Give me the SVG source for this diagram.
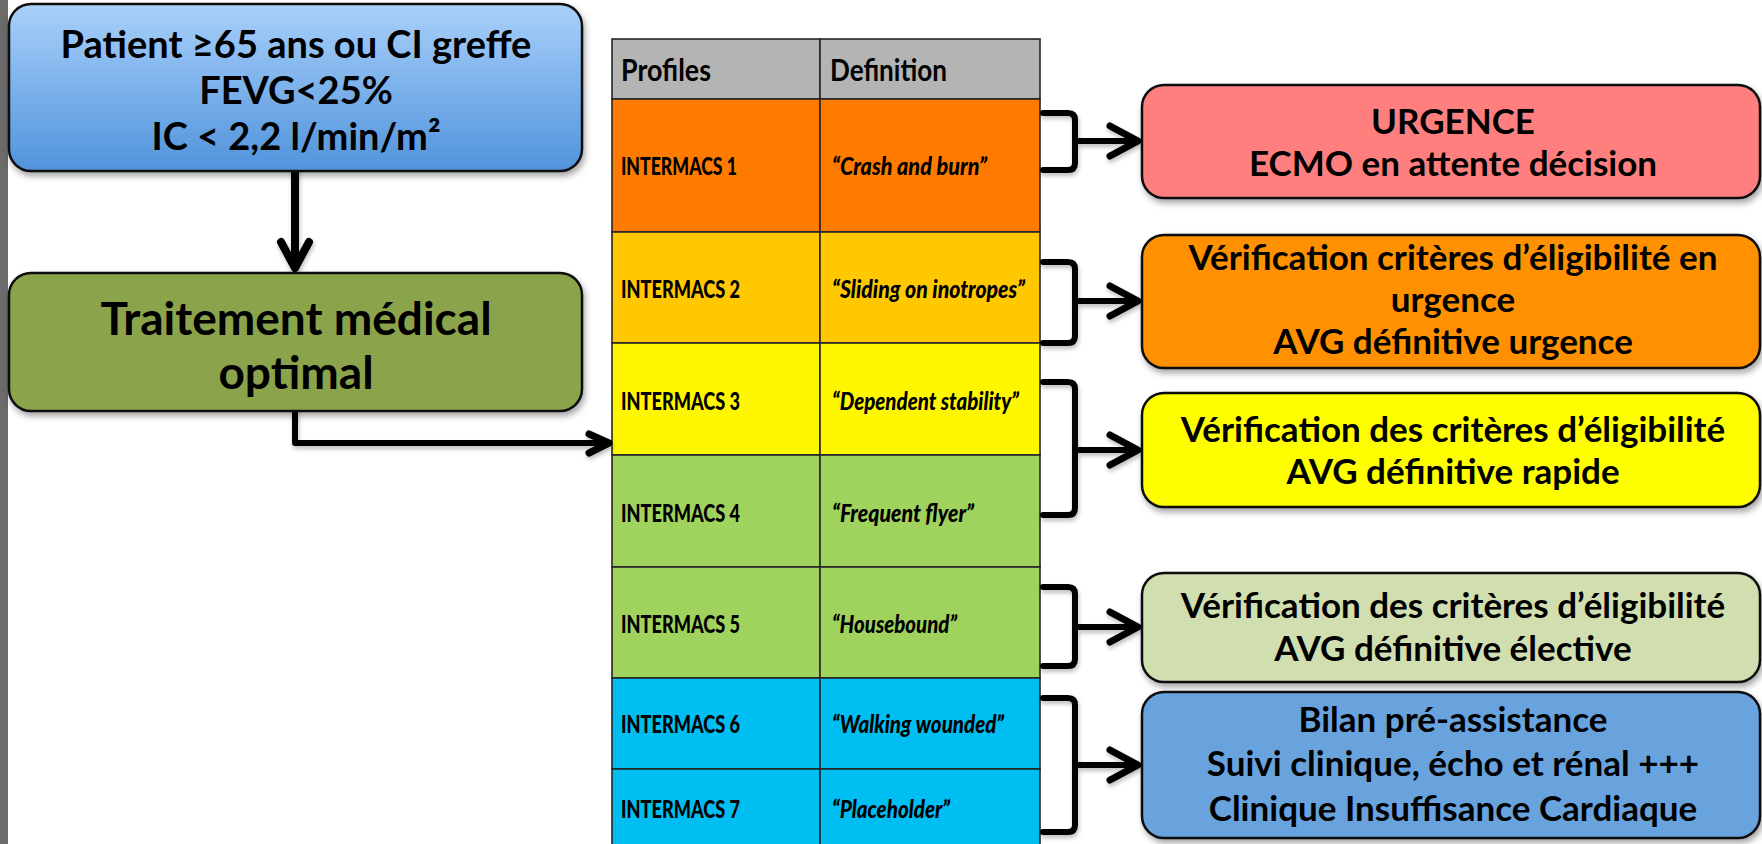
<svg xmlns="http://www.w3.org/2000/svg" width="1762" height="844" viewBox="0 0 1762 844">
  <defs>
    <linearGradient id="gradBlue" x1="0" y1="0" x2="0" y2="1">
      <stop offset="0" stop-color="#a9d0fa"/>
      <stop offset="1" stop-color="#5093dc"/>
    </linearGradient>
    <filter id="shadow" x="-10%" y="-10%" width="130%" height="140%">
      <feDropShadow dx="2" dy="4" stdDeviation="3" flood-color="#000" flood-opacity="0.35"/>
    </filter>
    <filter id="lineShadow" x="-20%" y="-20%" width="150%" height="150%">
      <feDropShadow dx="1" dy="3" stdDeviation="2" flood-color="#000" flood-opacity="0.25"/>
    </filter>
    <style>
      .box { stroke: #111; stroke-width: 2.5; filter: url(#shadow); }
      .t { font-family: "Lato", "Liberation Sans", sans-serif; font-weight: bold; fill: #000; text-anchor: middle; }
      .t34 { font-size: 35px; }
      .cell { stroke: #262626; stroke-width: 1.6; }
      .tc { font-family: "Lato", "Liberation Sans", sans-serif; font-weight: 900; fill: #000; font-size: 24px; }
      .th { font-size: 31px; font-weight: bold; }
      .ti { font-style: italic; }
      .link { fill: none; stroke: #000; stroke-linecap: round; stroke-linejoin: round; }
    </style>
  </defs>

  <rect x="0" y="0" width="1762" height="844" fill="#fff"/>
  <rect x="0" y="0" width="8" height="844" fill="#6b6b6b"/>

  <!-- INTERMACS profile table -->
  <g id="table">
    <rect class="cell" x="612" y="39" width="208" height="60" fill="#b4b4b4"/>
    <rect class="cell" x="820" y="39" width="220" height="60" fill="#b4b4b4"/>
    <rect class="cell" x="612" y="99" width="208" height="133" fill="#ff7b00"/>
    <rect class="cell" x="820" y="99" width="220" height="133" fill="#ff7b00"/>
    <rect class="cell" x="612" y="232" width="208" height="111" fill="#ffc800"/>
    <rect class="cell" x="820" y="232" width="220" height="111" fill="#ffc800"/>
    <rect class="cell" x="612" y="343" width="208" height="112" fill="#fff700"/>
    <rect class="cell" x="820" y="343" width="220" height="112" fill="#fff700"/>
    <rect class="cell" x="612" y="455" width="208" height="112" fill="#a0d25e"/>
    <rect class="cell" x="820" y="455" width="220" height="112" fill="#a0d25e"/>
    <rect class="cell" x="612" y="567" width="208" height="111" fill="#a0d25e"/>
    <rect class="cell" x="820" y="567" width="220" height="111" fill="#a0d25e"/>
    <rect class="cell" x="612" y="678" width="208" height="91" fill="#00bdf2"/>
    <rect class="cell" x="820" y="678" width="220" height="91" fill="#00bdf2"/>
    <rect class="cell" x="612" y="769" width="208" height="90" fill="#00bdf2"/>
    <rect class="cell" x="820" y="769" width="220" height="90" fill="#00bdf2"/>

    <text class="tc th" x="621" y="81" textLength="90" lengthAdjust="spacingAndGlyphs">Profiles</text>
    <text class="tc th" x="830" y="81" textLength="117" lengthAdjust="spacingAndGlyphs">Definition</text>

    <text class="tc" x="621" y="175" textLength="116" lengthAdjust="spacingAndGlyphs">INTERMACS 1</text>
    <text class="tc ti" x="832" y="175" textLength="155" lengthAdjust="spacingAndGlyphs">“Crash and burn”</text>
    <text class="tc" x="621" y="298" textLength="119" lengthAdjust="spacingAndGlyphs">INTERMACS 2</text>
    <text class="tc ti" x="832" y="298" textLength="193" lengthAdjust="spacingAndGlyphs">“Sliding on inotropes”</text>
    <text class="tc" x="621" y="410" textLength="119" lengthAdjust="spacingAndGlyphs">INTERMACS 3</text>
    <text class="tc ti" x="832" y="410" textLength="187" lengthAdjust="spacingAndGlyphs">“Dependent stability”</text>
    <text class="tc" x="621" y="522" textLength="119" lengthAdjust="spacingAndGlyphs">INTERMACS 4</text>
    <text class="tc ti" x="832" y="522" textLength="142" lengthAdjust="spacingAndGlyphs">“Frequent flyer”</text>
    <text class="tc" x="621" y="633" textLength="119" lengthAdjust="spacingAndGlyphs">INTERMACS 5</text>
    <text class="tc ti" x="832" y="633" textLength="125" lengthAdjust="spacingAndGlyphs">“Housebound”</text>
    <text class="tc" x="621" y="733" textLength="119" lengthAdjust="spacingAndGlyphs">INTERMACS 6</text>
    <text class="tc ti" x="832" y="733" textLength="172" lengthAdjust="spacingAndGlyphs">“Walking wounded”</text>
    <text class="tc" x="621" y="818" textLength="119" lengthAdjust="spacingAndGlyphs">INTERMACS 7</text>
    <text class="tc ti" x="832" y="818" textLength="118" lengthAdjust="spacingAndGlyphs">“Placeholder”</text>
  </g>

  <!-- Connectors: arrows and brackets -->
  <g id="connectors" filter="url(#lineShadow)">
    <path class="link" stroke-width="8" d="M295,171 V266"/>
    <path class="link" stroke-width="8" d="M281,242 L295,268 L309,242"/>

    <path class="link" stroke-width="6" d="M295,411 V443 H606"/>
    <path class="link" stroke-width="7" d="M589,434 L609,443 L589,453"/>

    <path class="link" stroke-width="6" d="M1043,113 H1068 Q1075,113 1075,120 V163 Q1075,170 1068,170 H1043"/>
    <path class="link" stroke-width="6" d="M1075,141 H1136"/>
    <path class="link" stroke-width="7" d="M1110,126 L1138,141 L1110,156"/>

    <path class="link" stroke-width="6" d="M1043,262 H1068 Q1075,262 1075,269 V336 Q1075,343 1068,343 H1043"/>
    <path class="link" stroke-width="6" d="M1075,301 H1136"/>
    <path class="link" stroke-width="7" d="M1110,286 L1138,301 L1110,316"/>

    <path class="link" stroke-width="6" d="M1043,382 H1068 Q1075,382 1075,389 V508 Q1075,515 1068,515 H1043"/>
    <path class="link" stroke-width="6" d="M1075,450 H1136"/>
    <path class="link" stroke-width="7" d="M1110,435 L1138,450 L1110,465"/>

    <path class="link" stroke-width="6" d="M1043,587 H1068 Q1075,587 1075,594 V659 Q1075,666 1068,666 H1043"/>
    <path class="link" stroke-width="6" d="M1075,627 H1136"/>
    <path class="link" stroke-width="7" d="M1110,612 L1138,627 L1110,642"/>

    <path class="link" stroke-width="6" d="M1043,698 H1068 Q1075,698 1075,705 V825 Q1075,832 1068,832 H1043"/>
    <path class="link" stroke-width="6" d="M1075,765 H1136"/>
    <path class="link" stroke-width="7" d="M1110,750 L1138,765 L1110,780"/>
  </g>

  <!-- Patient criteria -->
  <g id="criteria">
    <rect class="box" x="9" y="4" width="573" height="167" rx="22" fill="url(#gradBlue)"/>
    <text class="t" x="296" y="58" font-size="38">Patient ≥65 ans ou CI greffe</text>
    <text class="t" x="296" y="104" font-size="38">FEVG&lt;25%</text>
    <text class="t" x="296" y="150" font-size="38">IC &lt; 2,2 l/min/m²</text>
  </g>

  <!-- Medical treatment -->
  <g id="treatment">
    <rect class="box" x="9" y="273" width="573" height="138" rx="22" fill="#8ba34c"/>
    <text class="t" x="296" y="335" font-size="46">Traitement médical</text>
    <text class="t" x="296" y="389" font-size="46">optimal</text>
  </g>

  <!-- Outcome boxes -->
  <g id="urgence">
    <rect class="box" x="1142" y="85" width="618" height="113" rx="22" fill="#ff7f7f"/>
    <text class="t t34" x="1453" y="134">URGENCE</text>
    <text class="t t34" x="1453" y="176">ECMO en attente décision</text>
  </g>

  <g id="urgent-check">
    <rect class="box" x="1142" y="235" width="618" height="133" rx="22" fill="#ff9100"/>
    <text class="t t34" x="1453" y="270">Vérification critères d’éligibilité en</text>
    <text class="t t34" x="1453" y="312">urgence</text>
    <text class="t t34" x="1453" y="354">AVG définitive urgence</text>
  </g>

  <g id="rapid-check">
    <rect class="box" x="1142" y="393" width="618" height="114" rx="22" fill="#fefe00"/>
    <text class="t t34" x="1453" y="442">Vérification des critères d’éligibilité</text>
    <text class="t t34" x="1453" y="484">AVG définitive rapide</text>
  </g>

  <g id="elective-check">
    <rect class="box" x="1142" y="573" width="618" height="109" rx="22" fill="#d0deb0"/>
    <text class="t t34" x="1453" y="618">Vérification des critères d’éligibilité</text>
    <text class="t t34" x="1453" y="661">AVG définitive élective</text>
  </g>

  <g id="follow-up">
    <rect class="box" x="1142" y="692" width="618" height="146" rx="22" fill="#67a3de"/>
    <text class="t t34" x="1453" y="732">Bilan pré-assistance</text>
    <text class="t t34" x="1453" y="776">Suivi clinique, écho et rénal +++</text>
    <text class="t t34" x="1453" y="821">Clinique Insuffisance Cardiaque</text>
  </g>
</svg>
